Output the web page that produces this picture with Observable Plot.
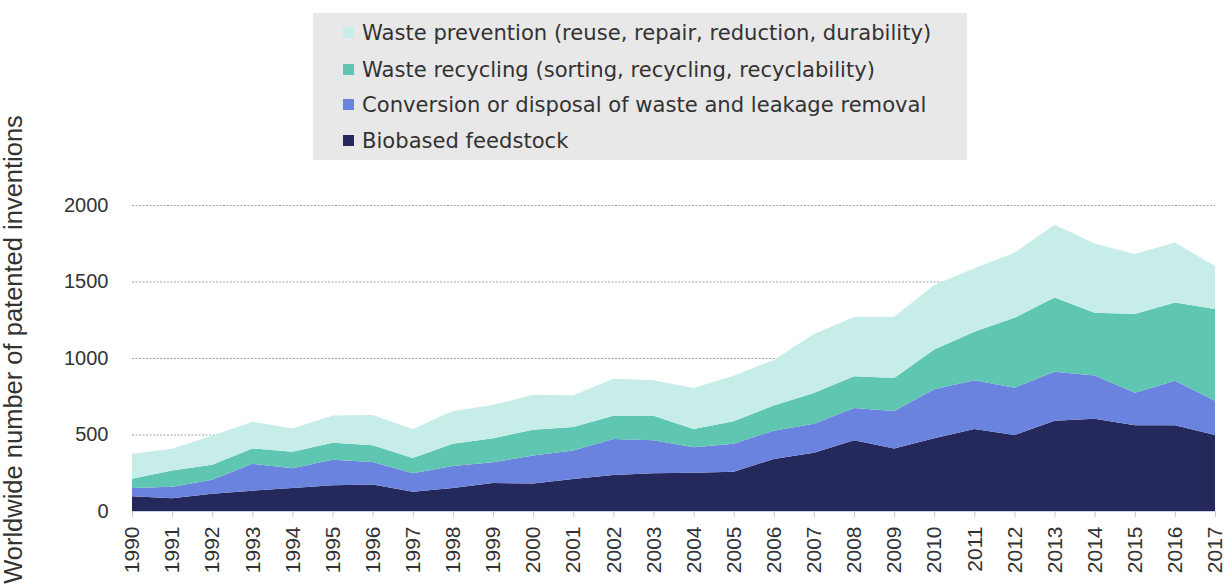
<!DOCTYPE html>
<html>
<head>
<meta charset="utf-8">
<script src="https://cdn.jsdelivr.net/npm/d3@7"></script>
<script src="https://cdn.jsdelivr.net/npm/@observablehq/plot@0.6"></script>
<style>
  body { margin: 0; background: #ffffff; font-family: "Liberation Sans", Arial, sans-serif; color: #333333; }
  #header { position: relative; width: 1226px; height: 170px; }
  #legend { position: absolute; left: 313px; top: 13px; width: 654px; height: 147px; background: #e8e8e8; }
  .item { position: absolute; left: 30px; height: 30px; display: flex; align-items: center; font-family: "DejaVu Sans", sans-serif; font-size: 21.1px; color: #333333; white-space: nowrap; }
  .sw { width: 11px; height: 11px; margin-right: 8px; flex: none; }
  #chart svg { overflow: visible !important; display: block; }
</style>
</head>
<body>
<div id="header"><div id="legend"></div></div>
<div id="chart"></div>
<script>
const years = [1990, 1991, 1992, 1993, 1994, 1995, 1996, 1997, 1998, 1999,
               2000, 2001, 2002, 2003, 2004, 2005, 2006, 2007, 2008, 2009,
               2010, 2011, 2012, 2013, 2014, 2015, 2016, 2017];

const biobased   = [96, 83, 113, 133, 150, 168, 174, 126, 150, 183, 179, 209, 235, 246, 250, 257, 340, 381, 462, 409, 475, 536, 497, 590, 603, 560, 560, 497];
const conversion = [54, 76, 92, 176, 129, 167, 146, 120, 144, 135, 183, 187, 235, 216, 166, 183, 185, 190, 211, 244, 320, 318, 309, 320, 283, 213, 292, 224];
const recycling  = [61, 105, 98, 100, 109, 111, 109, 100, 146, 157, 169, 153, 153, 161, 120, 146, 165, 200, 207, 216, 261, 318, 457, 486, 410, 514, 511, 599];
const prevention = [164, 143, 189, 175, 152, 179, 198, 190, 213, 218, 229, 207, 242, 231, 268, 298, 297, 386, 388, 401, 421, 414, 425, 475, 453, 392, 392, 281];

const seriesNames = [
  "Biobased feedstock",
  "Conversion or disposal of waste and leakage removal",
  "Waste recycling (sorting, recycling, recyclability)",
  "Waste prevention (reuse, repair, reduction, durability)"
];
const seriesColors = ["#25285b", "#6a83de", "#5ec6b1", "#c6ede8"];
const yTicks = [0, 500, 1000, 1500, 2000];
const yLabel = "Worldwide number of patented inventions";

const seriesValues = [biobased, conversion, recycling, prevention];
const rows = [];
seriesNames.forEach((name, s) => {
  years.forEach((yr, i) => rows.push({ year: yr, series: name, value: seriesValues[s][i] }));
});

// Legend (HTML, above the SVG), top entry first
const legend = document.getElementById("legend");
const legendTops = [4, 41, 76, 112];
[3, 2, 1, 0].forEach((s, k) => {
  const it = document.createElement("div");
  it.className = "item";
  it.style.top = legendTops[k] + "px";
  const sw = document.createElement("span");
  sw.className = "sw";
  sw.style.background = seriesColors[s];
  it.appendChild(sw);
  it.appendChild(document.createTextNode(seriesNames[s]));
  legend.appendChild(it);
});

const chart = Plot.plot({
  width: 1226,
  height: 416,
  marginTop: 35,
  marginBottom: 75,
  marginLeft: 132,
  marginRight: 11,
  style: { background: "transparent", color: "#333333", fontFamily: "'Liberation Sans', Arial, sans-serif" },
  x: { type: "linear", domain: [1990, 2017] },
  y: { domain: [0, 2000] },
  color: { domain: seriesNames, range: seriesColors },
  marks: [
    Plot.ruleY([500, 1000, 1500, 2000], { stroke: "#8a8a8a", strokeWidth: 0.8, strokeDasharray: "2,1.5" }),
    Plot.areaY(rows, Plot.stackY({ x: "year", y: "value", z: "series", fill: "series", order: seriesNames })),
    Plot.ruleY([0], { stroke: "#cfd0e4", strokeWidth: 1 }),
    Plot.axisY({ ticks: yTicks, tickFormat: d => String(d), tickSize: 0, tickPadding: 24, fontSize: 20, label: null,
                 fontFamily: "'Liberation Sans Narrow', 'Liberation Sans', sans-serif", fill: "#333333" }),
    Plot.axisX({ ticks: years, tickFormat: d => String(d), tickRotate: -90, tickSize: 6, tickPadding: 9,
                 fontSize: 21, stroke: "#c8c8c8", fill: "#333333", label: null }),
    Plot.text([yLabel], { frameAnchor: "left", rotate: -90, dx: -119, dy: -9, textAnchor: "middle",
                          fontSize: 25.5, fill: "#333333" })
  ]
});
document.getElementById("chart").appendChild(chart);
</script>
</body>
</html>
